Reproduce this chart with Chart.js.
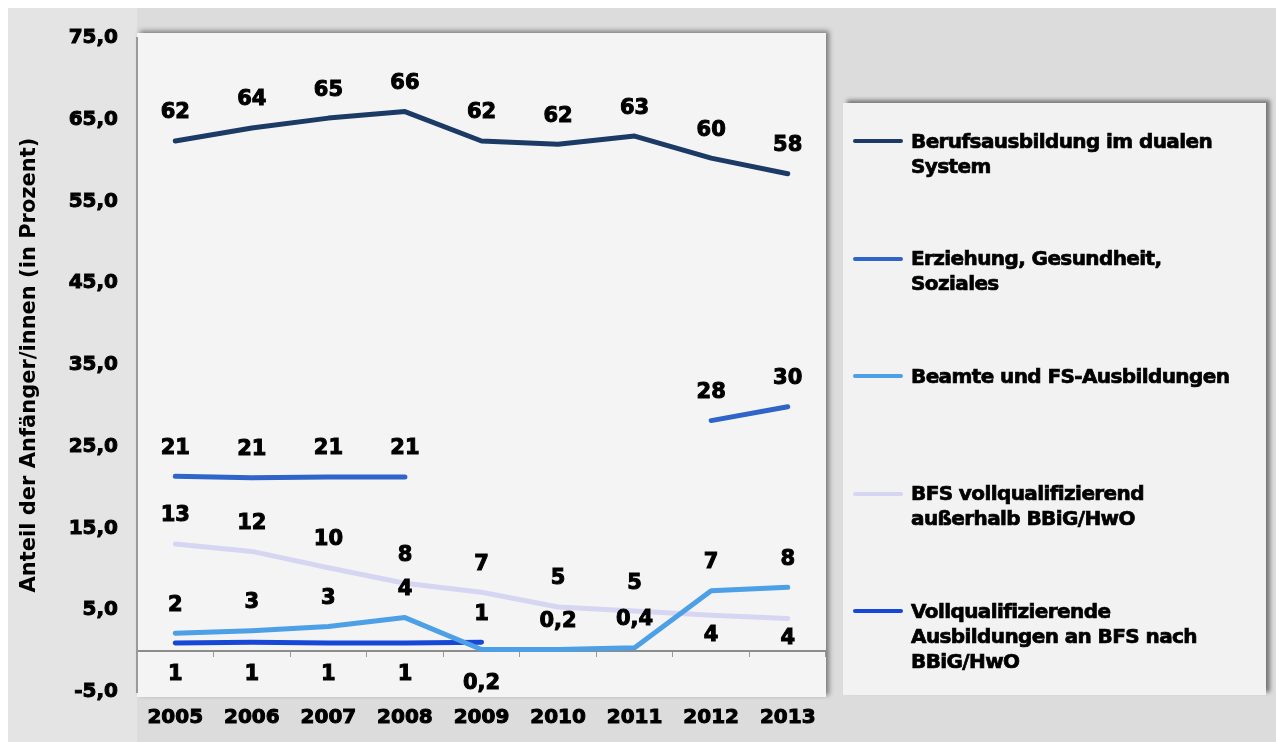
<!DOCTYPE html>
<html>
<head>
<meta charset="utf-8">
<script src="https://cdn.jsdelivr.net/npm/chart.js@4.4.1/dist/chart.umd.min.js"></script>
<style>
  body { margin: 0; background: #fff; }
  #wrap { position: relative; width: 1276px; height: 742px; }
  #legend {
    position: absolute; left: 843px; top: 103px; width: 423px; height: 592px;
    background: #f2f2f2; box-shadow: 4px -3px 4px rgba(0, 0, 0, 0.45);
    font: bold 20px "DejaVu Sans"; color: #000;
  }
  .item { position: absolute; left: 10px; display: flex; }
  .swatch { width: 50px; height: 4px; margin-top: 10.5px; margin-right: 8px; border-radius: 2px; }
  .txt { line-height: 25px; white-space: nowrap; letter-spacing: -0.6px; -webkit-text-stroke: 0.7px #000; }
</style>
</head>
<body>
<div id="wrap">
  <canvas id="myChart" width="1276" height="742"></canvas>
  <div id="legend"></div>
</div>
<script>
var years = ['2005', '2006', '2007', '2008', '2009', '2010', '2011', '2012', '2013'];
var yTicks = [-5, 5, 15, 25, 35, 45, 55, 65, 75];

// Anteile in Prozent
var dualesSystem = [62.4, 64.0, 65.2, 66.0, 62.4, 62.0, 63.0, 60.3, 58.4];
var erziehung = [21.4, 21.2, 21.3, 21.3, null, null, null, 28.2, 29.9];
var beamte = [2.2, 2.5, 3.0, 4.1, 0.2, 0.2, 0.4, 7.4, 7.8];
var bfsAusserhalb = [13.1, 12.2, 10.2, 8.3, 7.2, 5.4, 4.9, 4.4, 4.0];
var bfsNachBBiG = [1.0, 1.1, 1.0, 1.0, 1.1, null, null, null, null];

var seriesNames = [
    ['Berufsausbildung im dualen', 'System'],
    ['Erziehung, Gesundheit,', 'Soziales'],
    ['Beamte und FS-Ausbildungen'],
    ['BFS vollqualifizierend', 'außerhalb BBiG/HwO'],
    ['Vollqualifizierende', 'Ausbildungen an BFS nach', 'BBiG/HwO']
];
var seriesColors = ['#1c3a66', '#2f64c8', '#4d9fe6', '#d6d6f2', '#1647d6'];

var boldFont = { family: 'DejaVu Sans', weight: 'bold', size: 20 };

function fmt(v) {
    if (v < 1) return v.toFixed(1).replace('.', ',');
    return String(Math.round(v));
}

function makeSet(i, data, below, belowDy) {
    return {
        label: seriesNames[i].join(' '),
        data: data,
        borderColor: seriesColors[i],
        backgroundColor: seriesColors[i],
        borderWidth: 5,
        pointRadius: 0,
        tension: 0,
        spanGaps: false,
        borderCapStyle: 'round',
        borderJoinStyle: 'round',
        labelBelow: below,
        belowDy: belowDy
    };
}

// grey background, plot panel with shadow
var panels = {
    id: 'panels',
    beforeDraw: function (chart) {
        var ctx = chart.ctx, a = chart.chartArea;
        ctx.save();
        ctx.fillStyle = '#fff';
        ctx.fillRect(0, 0, chart.width, chart.height);
        ctx.fillStyle = '#dcdcdc';
        ctx.fillRect(8, 8, chart.width - 8, chart.height - 8);
        ctx.fillStyle = '#e4e4e4';
        ctx.fillRect(8, 8, a.left - 8, chart.height - 8);
        ctx.shadowColor = 'rgba(0,0,0,0.45)';
        ctx.shadowBlur = 5;
        ctx.shadowOffsetX = 3;
        ctx.shadowOffsetY = -2;
        ctx.fillStyle = '#f4f4f4';
        ctx.fillRect(a.left, a.top - 5, a.right - a.left, a.bottom - a.top + 10);
        ctx.restore();
    }
};

// value labels above (or below) each point
var valueLabels = {
    id: 'valueLabels',
    afterDatasetsDraw: function (chart) {
        var ctx = chart.ctx;
        ctx.save();
        ctx.font = 'bold 21px "DejaVu Sans"';
        ctx.fillStyle = '#000';
        ctx.strokeStyle = '#000';
        ctx.lineWidth = 1;
        ctx.textAlign = 'center';
        ctx.textBaseline = 'middle';
        chart.data.datasets.forEach(function (ds, i) {
            var meta = chart.getDatasetMeta(i);
            meta.data.forEach(function (pt, j) {
                var v = ds.data[j];
                if (v === null) return;
                var below = ds.labelBelow.indexOf(j) >= 0;
                var y = pt.y + (below ? ds.belowDy : -28);
                ctx.fillText(fmt(v), pt.x, y);
                ctx.strokeText(fmt(v), pt.x, y);
            });
        });
        ctx.restore();
    }
};

var ctx = document.getElementById('myChart').getContext('2d');
var chart = new Chart(ctx, {
    type: 'line',
    data: {
        labels: years,
        datasets: [
            makeSet(0, dualesSystem, [], 0),
            makeSet(1, erziehung, [], 0),
            makeSet(2, beamte, [4], 34),
            makeSet(3, bfsAusserhalb, [7, 8], 20),
            makeSet(4, bfsNachBBiG, [0, 1, 2, 3], 32)
        ]
    },
    options: {
        responsive: false,
        animation: false,
        layout: { padding: { top: 38, right: 450, bottom: 0, left: 0 } },
        plugins: {
            legend: { display: false },
            tooltip: { enabled: false }
        },
        scales: {
            x: {
                offset: true,
                afterFit: function (s) { s.height = 50; },
                grid: { display: false, drawTicks: false },
                border: { display: false },
                ticks: {
                    color: '#000', font: boldFont, padding: 14, maxRotation: 0, autoSkip: false,
                    textStrokeColor: '#000', textStrokeWidth: 1
                }
            },
            xZero: {
                type: 'category',
                position: { y: 0 },
                offset: true,
                afterFit: function (s) { s.height = 0; },
                ticks: { display: false },
                grid: { display: true, drawOnChartArea: false, drawTicks: true, tickLength: 5, offset: true, color: '#9a9a9a' },
                border: { display: true, color: '#8c8c8c', width: 2 }
            },
            y: {
                min: -5,
                max: 75,
                afterFit: function (s) { s.width = 137; },
                afterBuildTicks: function (s) {
                    s.ticks = yTicks.map(function (v) { return { value: v }; });
                },
                ticks: {
                    color: '#000', font: boldFont, padding: 19,
                    textStrokeColor: '#000', textStrokeWidth: 1,
                    callback: function (v) { return v.toFixed(1).replace('.', ','); }
                },
                grid: { display: false, drawTicks: false },
                border: { display: true, color: '#9a9a9a', width: 2 },
                title: {
                    display: true,
                    text: 'Anteil der Anfänger/innen (in Prozent)',
                    color: '#000',
                    font: { family: 'DejaVu Sans', weight: 'bold', size: 21 },
                    padding: { top: 17, bottom: 0 }
                }
            }
        }
    },
    plugins: [panels, valueLabels]
});

// legend built from the chart's datasets
var legend = document.getElementById('legend');
chart.data.datasets.forEach(function (ds, i) {
    var item = document.createElement('div');
    item.className = 'item';
    item.style.top = (25.5 + i * 117.5) + 'px';
    var sw = document.createElement('span');
    sw.className = 'swatch';
    sw.style.background = ds.borderColor;
    var txt = document.createElement('span');
    txt.className = 'txt';
    txt.innerHTML = seriesNames[i].join('<br>');
    item.appendChild(sw);
    item.appendChild(txt);
    legend.appendChild(item);
});
</script>
</body>
</html>
